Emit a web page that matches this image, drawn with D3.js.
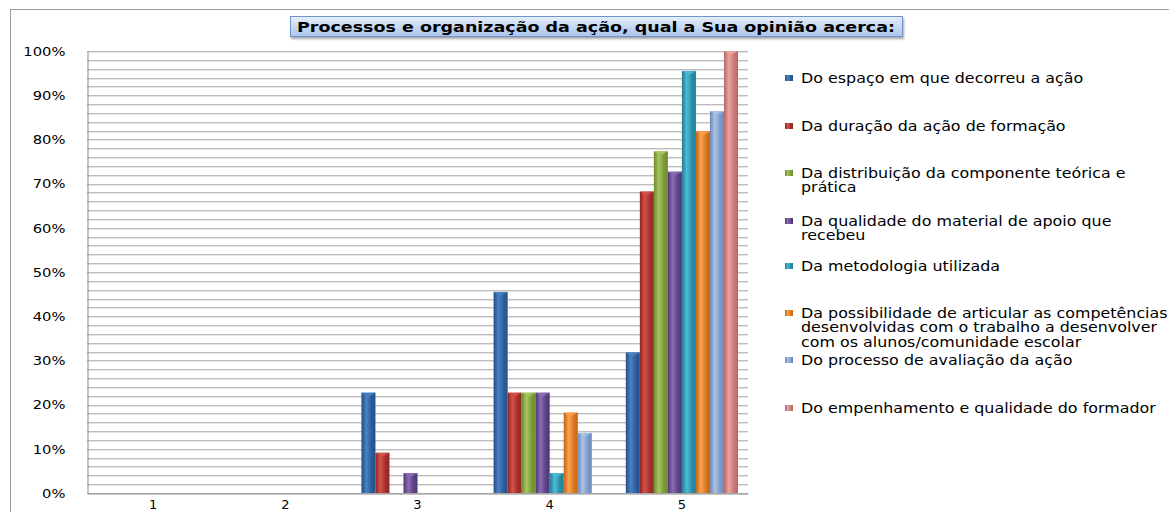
<!DOCTYPE html>
<html>
<head>
<meta charset="utf-8">
<script src="https://d3js.org/d3.v7.min.js"></script>
<style>
  body { margin: 0; background: #fff; }
  svg { display: block; }
  text { font-family: "DejaVu Sans", Verdana, sans-serif; fill: #000; }
</style>
</head>
<body>
<script>
// data (22 respostas)
var categories = ["1", "2", "3", "4", "5"];
var seriesNames = [
  "Do espaço em que decorreu a ação",
  "Da duração da ação de formação",
  "Da distribuição da componente teórica e prática",
  "Da qualidade do material de apoio que recebeu",
  "Da metodologia utilizada",
  "Da possibilidade de articular as competências desenvolvidas com o trabalho a desenvolver com os alunos/comunidade escolar",
  "Do processo de avaliação da ação",
  "Do empenhamento e qualidade do formador"
];
var legendLines = [
  ["Do espaço em que decorreu a ação"],
  ["Da duração da ação de formação"],
  ["Da distribuição da componente teórica e", "prática"],
  ["Da qualidade do material de apoio que", "recebeu"],
  ["Da metodologia utilizada"],
  ["Da possibilidade de articular as competências", "desenvolvidas com o trabalho a desenvolver", "com os alunos/comunidade escolar"],
  ["Do processo de avaliação da ação"],
  ["Do empenhamento e qualidade do formador"]
];
// values per series, one per category (fractions)
var espaco       = [0, 0, 0.227, 0.455, 0.318];
var duracao      = [0, 0, 0.091, 0.227, 0.682];
var distribuicao = [0, 0, 0,     0.227, 0.773];
var qualidade    = [0, 0, 0.045, 0.227, 0.727];
var metodologia  = [0, 0, 0,     0.045, 0.955];
var articular    = [0, 0, 0,     0.182, 0.818];
var avaliacao    = [0, 0, 0,     0.136, 0.864];
var empenhamento = [0, 0, 0,     0,     1.0];
var seriesValues = [espaco, duracao, distribuicao, qualidade, metodologia, articular, avaliacao, empenhamento];
var yTicks = [0, 0.1, 0.2, 0.3, 0.4, 0.5, 0.6, 0.7, 0.8, 0.9, 1.0];
var title = "Processos e organização da ação, qual a Sua opinião acerca:";

var colors = [
  ["#234f84", "#4a80c4", "#2d5f9c"],
  ["#8c2622", "#d4514c", "#a8312d"],
  ["#6c8a2e", "#a6c75e", "#7e9d3b"],
  ["#4e3577", "#8b6db0", "#5e4388"],
  ["#207b92", "#4fbad6", "#2a90aa"],
  ["#c0620f", "#fba150", "#dc7a22"],
  ["#6b88b5", "#a9c3e6", "#809ccb"],
  ["#b36663", "#eba3a1", "#cb7d7a"]
];

var W = 1169, H = 512;
var margin = { left: 87, top: 51, right: 748, bottom: 493 };

var svg = d3.select("body").append("svg").attr("width", W).attr("height", H);
var defs = svg.append("defs");

colors.forEach(function(c, i) {
  var g = defs.append("linearGradient").attr("id", "bar" + i)
    .attr("x1", "0").attr("x2", "1").attr("y1", "0").attr("y2", "0");
  g.append("stop").attr("offset", "0").attr("stop-color", c[0]);
  g.append("stop").attr("offset", "0.35").attr("stop-color", c[1]);
  g.append("stop").attr("offset", "0.7").attr("stop-color", c[2]);
  g.append("stop").attr("offset", "1").attr("stop-color", c[0]);
});
var tg = defs.append("linearGradient").attr("id", "titleGrad")
  .attr("x1", "0").attr("x2", "0").attr("y1", "0").attr("y2", "1");
tg.append("stop").attr("offset", "0").attr("stop-color", "#e6eefa");
tg.append("stop").attr("offset", "1").attr("stop-color", "#a9c4ec");
var sh = defs.append("filter").attr("id", "shadow").attr("x", "-5%").attr("y", "-30%").attr("width", "110%").attr("height", "170%");
sh.append("feDropShadow").attr("dx", 1).attr("dy", 2).attr("stdDeviation", 1.2).attr("flood-color", "#000").attr("flood-opacity", 0.35);

// outer frame
svg.append("rect").attr("x", 10.5).attr("y", 9.5).attr("width", W).attr("height", H)
  .attr("fill", "none").attr("stroke", "#9a9a9a").attr("stroke-width", 1);

var y = d3.scaleLinear().domain([0, 1]).range([margin.bottom, margin.top]);
var x0 = d3.scaleBand().domain(categories).range([margin.left, margin.right]).paddingInner(20 / 132).paddingOuter(10 / 132);
var x1 = d3.scaleBand().domain(d3.range(seriesNames.length)).range([0, x0.bandwidth()]);

// minor + major gridlines every 2%
var gridVals = d3.range(0, 51).map(function(d) { return d / 50; });
svg.append("g").selectAll("line.g2").data(gridVals.filter(function(d) { return d > 0; })).enter().append("line")
  .attr("x1", margin.left).attr("x2", margin.right)
  .attr("y1", function(d) { return Math.round(y(d)) + 1.5; }).attr("y2", function(d) { return Math.round(y(d)) + 1.5; })
  .attr("stroke", "#e4e4e4");
svg.append("g").selectAll("line.g1").data(gridVals).enter().append("line")
  .attr("x1", margin.left).attr("x2", margin.right)
  .attr("y1", function(d) { return Math.round(y(d)) + 0.5; }).attr("y2", function(d) { return Math.round(y(d)) + 0.5; })
  .attr("stroke", "#bdbdbd");

// axes
var yAxis = svg.append("g").attr("transform", "translate(" + (margin.left + 0.5) + ",0)")
  .call(d3.axisLeft(y).tickValues(yTicks).tickSize(0).tickFormat(d3.format(".0%")));
yAxis.select(".domain").attr("stroke", "#8c8c8c");
yAxis.selectAll(".tick text").attr("x", null).attr("dy", null)
  .attr("transform", "translate(-22,0) scale(1.18,1)")
  .attr("y", 0).attr("dy", "0.35em").attr("font-size", "12.5px").attr("fill", "#000");

var xAxis = svg.append("g").attr("transform", "translate(0," + (margin.bottom + 0.5) + ")")
  .call(d3.axisBottom(x0).tickSize(0).tickPadding(6));
xAxis.select(".domain").attr("stroke", "#8c8c8c");
xAxis.selectAll("text").attr("font-size", "13px").attr("fill", "#000");

// bars
var groups = svg.append("g").selectAll("g").data(seriesValues).enter().append("g");
groups.each(function(vals, si) {
  var gs = d3.select(this);
  var data = vals.map(function(v, ci) { return { v: v, c: categories[ci] }; }).filter(function(d) { return d.v > 0; });
  gs.selectAll("rect").data(data).enter().append("rect")
    .attr("x", function(d) { return x0(d.c) + x1(si); })
    .attr("y", function(d) { return y(d.v); })
    .attr("width", x1.bandwidth())
    .attr("height", function(d) { return margin.bottom - y(d.v); })
    .attr("fill", "url(#bar" + si + ")");
  // top cap
  gs.selectAll("path").data(data).enter().append("path")
    .attr("d", function(d) {
      var bx = x0(d.c) + x1(si), bw = x1.bandwidth(), ty = y(d.v);
      return "M" + bx + "," + ty + "L" + (bx + bw) + "," + ty + "L" + (bx + bw / 2) + "," + (ty + 4) + "Z";
    })
    .attr("fill", colors[si][1]).attr("opacity", 0.85);
});

// title box
var titleG = svg.append("g");
titleG.append("rect").attr("x", 290.5).attr("y", 16.5).attr("width", 612).attr("height", 20)
  .attr("fill", "url(#titleGrad)").attr("stroke", "#6f93c8").attr("filter", "url(#shadow)");
titleG.append("text").attr("x", 596).attr("y", 31.5).attr("text-anchor", "middle")
  .attr("font-size", "14px").attr("font-weight", "bold")
  .attr("textLength", 598).attr("lengthAdjust", "spacingAndGlyphs").text(title);

// legend
var legendY = [78, 126, 173, 221, 266, 313, 360, 408];
var legend = svg.append("g");
legendLines.forEach(function(lines, i) {
  var lg = legend.append("g").attr("transform", "translate(785," + legendY[i] + ")");
  lg.append("rect").attr("x", 0).attr("y", -3).attr("width", 8).attr("height", 6)
    .attr("fill", "url(#bar" + i + ")");
  var tg2 = lg.append("g").attr("transform", "translate(16,0) scale(1.205,1)");
  lines.forEach(function(t, k) {
    tg2.append("text").attr("x", 0).attr("y", k * 14.5).attr("dy", "0.35em")
      .attr("font-size", "13.2px").text(t);
  });
});
</script>
</body>
</html>
